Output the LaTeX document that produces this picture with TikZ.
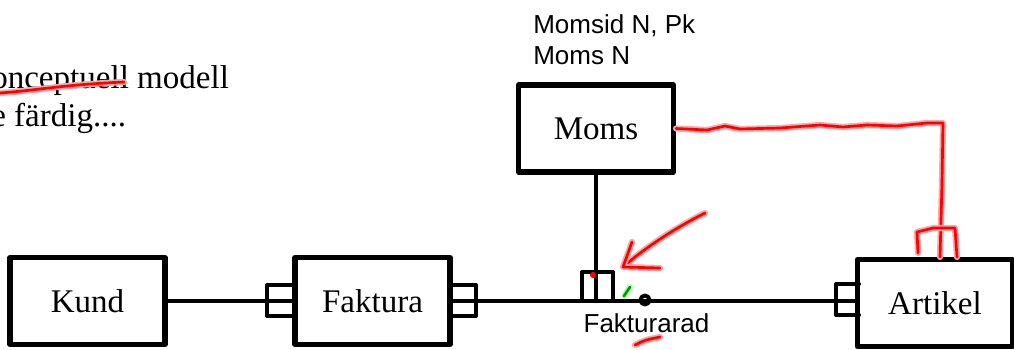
\documentclass[tikz,border=0pt]{standalone}
\usepackage{fontspec}
\setmainfont{Liberation Serif}
\newfontfamily\sansf{Liberation Sans}
\begin{document}
\begin{tikzpicture}[x=0.025cm,y=-0.025cm,line join=round,line cap=round,
	box/.style={draw,line width=3.6pt,line cap=butt,inner sep=0pt,minimum width=3.875cm,minimum height=2.175cm,font=\fontsize{23.5}{27}\selectfont},
	conn/.style={line width=3pt},
	foot/.style={line width=2.8pt},
	redpen/.style={red,line width=1.9pt,preaction={draw,red!35,line width=4.4pt}},
	greenpen/.style={green!60!black,line width=1.8pt,preaction={draw,green!35,line width=4pt}}]
	\useasboundingbox (0,0) rectangle (1014,349);
	\clip (0,0) rectangle (1014,349);
	\node[align=left,anchor=north west,inner sep=0pt,font=\fontsize{23.5}{27}\selectfont] (title) at (-9,65) {onceptuell modell\\e färdig....};
	\node[box] (Kund) at (87.5,301) {Kund};
	\node[box] (Faktura) at (372.5,301) {Faktura};
	\node[box] (Moms) at (596,128.5) {Moms};
	\node[box] (Artikel) at (935,303) {Artikel};
	\node[anchor=north west,align=left,inner sep=0pt,font=\sansf\fontsize{18.5}{22}\selectfont] (attr) at (533,14) {Momsid N, Pk\\Moms N};
	\node[anchor=base,inner sep=0pt,font=\sansf\fontsize{18.5}{22}\selectfont] (rad) at (646.5,332) {Fakturarad};
	\draw[conn] (Kund.east)--(Faktura.west);
	\draw[conn] (Faktura.east)--(Artikel.west|-Faktura.east);
	\draw[conn] (Moms.south)--(Moms.south|-Faktura.east);
	\draw[foot] (295,285)-|(267,316)--(295,316);
	\draw[foot] (450,285)-|(476,316)--(450,316);
	\draw[foot] (859,284)-|(836,315)--(859,315);
	\draw[foot] (582,300)|-(613,272)--(613,300);
	\draw[line width=2.8pt] (645,300) circle (3.2pt);
	\fill[red] (593,275) circle (2.2pt);
	\draw[greenpen] (624,296)--(630,287);
	\draw[redpen] (0,93)..controls (40,90) and (60,85)..(124,82);
	\draw[redpen] (705,213)..controls (675,228) and (645,248)..(624,266);
	\draw[redpen] (632,242)--(623,267)--(660,268);
	\draw[redpen] (635,345)..controls (645,340)..(660,337);
	\draw[redpen] (Moms.east)--(707,130)--(725,126)--(740,129)--(780,128)--(820,125)--(843,127)--(867,125)--(897,126)--(927,123)--(943,123)--(942,183)--(940,0|-Artikel.north);
	\draw[redpen] (918,253)--(917,232)--(933,228)--(955,228)--(957,257);
\end{tikzpicture}
\end{document}
